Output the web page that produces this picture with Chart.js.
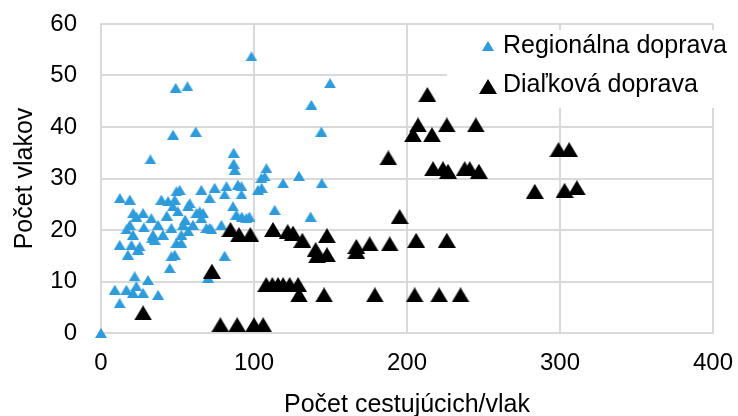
<!DOCTYPE html>
<html>
<head>
<meta charset="utf-8">
<script src="https://cdn.jsdelivr.net/npm/chart.js@4.4.1/dist/chart.umd.min.js"></script>
<style>
  html, body { margin: 0; padding: 0; background: #fff; }
  #wrap { width: 738px; height: 416px; }
</style>
</head>
<body>
<div id="wrap"><canvas id="chart"></canvas></div>
<script>
// Scatter: passengers per train vs number of trains
const seriesNames = ['Regionálna doprava', 'Diaľková doprava'];
const seriesColors = ['#2e9bdb', '#000000'];

const xTicks = [0, 100, 200, 300, 400];
const yTicks = [0, 10, 20, 30, 40, 50, 60];

// [cestujúci/vlak, počet vlakov]
const regionalPoints = [
    [0, 0], [98.3, 53.7], [48.8, 47.6], [56.5, 47.9], [47.1, 38.5], [61.9, 39.1],
    [32.3, 33.7], [86.7, 35], [86.7, 32.9], [87.5, 31.7], [108.1, 32], [149.7, 48.5],
    [137.5, 44.3], [144, 39.1], [107, 30.4], [129.4, 30.5], [119, 29.1], [144.3, 29.1],
    [105, 28.2], [91.8, 28.5], [91.8, 26.9], [113.5, 23.9], [137, 22.6], [92, 22.6],
    [97, 22.6], [102.6, 27.8], [104.8, 30.1],
    [12.3, 26.2], [18.8, 25.9], [27.5, 23.3], [23.1, 22.6], [32.9, 22.3], [39.5, 25.9],
    [43.8, 25.6], [47, 24.6], [49.3, 27.5], [16.6, 20.1], [20.9, 19.1], [18.8, 21],
    [37.3, 21], [34, 19.1], [40.5, 19.1], [46, 20.4], [12.2, 17.1], [19.9, 17.1],
    [25.3, 16.8], [49.3, 17.5], [21, 23.3], [33.5, 18.5], [28, 20.5], [43, 22.8],
    [51.4, 27.8], [65.6, 27.8], [74.3, 28.2], [82, 28.5], [89.5, 28.8], [71, 26.2],
    [80.8, 26.9], [48.2, 25.9], [56.9, 24.6], [50.3, 23.6], [64.5, 23.6], [65.6, 22.3],
    [86.3, 24.6], [88.5, 23], [95, 22.3], [53.6, 21], [60.1, 21], [71, 20.4],
    [78.7, 21], [52.5, 19.1], [52.5, 17.5], [58, 25.2], [62.4, 23.3], [66.7, 23.3],
    [68.9, 20.4], [72.2, 20.1], [57, 19.8], [55, 22],
    [24.2, 16.2], [17.6, 15.2], [35.1, 18.1], [46, 14.9], [44.9, 12.6], [48.2, 15.2],
    [22, 11], [30.7, 10.3], [9, 8.4], [16.6, 8.4], [23.1, 9.1], [27.5, 7.8],
    [37.3, 7.4], [12.2, 5.8], [20.9, 7.8], [70, 10.7], [80.8, 15]
];

const longDistancePoints = [
    [27.5, 3.9], [72.5, 12], [78, 1.6], [89, 1.6], [100, 1.6], [106, 1.6],
    [84.6, 20.1], [90.2, 19.1], [97.6, 19.1],
    [108, 9.4], [112, 9.4], [115.7, 9.4], [119, 9.4], [123.3, 9.4], [128.8, 9.4],
    [129.4, 7.4], [145.8, 7.4], [179, 7.4], [205, 7.4], [221, 7.4], [235, 7.4],
    [112.4, 20.1], [122, 19.7], [125.5, 19.4], [131.6, 18], [147.7, 18.9],
    [140.3, 16.2], [141.2, 15], [147.7, 15.2], [166.9, 16.8], [166.9, 15.8],
    [175.6, 17.3], [188.7, 17.3], [206, 18], [226, 18], [195.2, 22.6],
    [187.8, 34], [203.9, 38.5], [207.2, 40.4], [216.3, 38.5], [213.3, 46.3],
    [226, 40.4], [245, 40.4],
    [217, 31.9], [223.5, 31.9], [226.8, 31.4], [237.7, 31.9], [241, 31.9], [247, 31.4],
    [283.5, 27.5], [299, 35.6], [306, 35.6], [303, 27.7], [311, 28.2]
];

const FONT = "'Liberation Sans', Arial, sans-serif";

function toXY(list) {
    return list.map(p => ({ x: p[0], y: p[1] }));
}

// Triangle marker as a small canvas, so the box centre sits on the value (like Excel)
function triangleMarker(w, h, color) {
    const c = document.createElement('canvas');
    c.width = w;
    c.height = h;
    const g = c.getContext('2d');
    g.fillStyle = color;
    g.beginPath();
    g.moveTo(w / 2, 0);
    g.lineTo(w, h);
    g.lineTo(0, h);
    g.closePath();
    g.fill();
    return c;
}

const blueMarker = triangleMarker(12, 10, seriesColors[0]);
const blackMarker = triangleMarker(18, 15, seriesColors[1]);

// Legend drawn inside the plot, top right, on a white box
const insideLegend = {
    id: 'insideLegend',
    afterDatasetsDraw(chart) {
        const ctx = chart.ctx;
        const rows = [
            { text: seriesNames[0], marker: blueMarker, my: 46, ty: 46 },
            { text: seriesNames[1], marker: blackMarker, my: 86, ty: 85 }
        ];
        ctx.save();
        ctx.fillStyle = '#ffffff';
        ctx.fillRect(447, 30, 280, 78);
        rows.forEach(row => {
            const m = row.marker;
            ctx.drawImage(m, Math.round(488 - m.width / 2), Math.round(row.my - m.height / 2));
            ctx.fillStyle = '#000';
            ctx.font = '25px ' + FONT;
            ctx.textBaseline = 'middle';
            ctx.textAlign = 'left';
            ctx.fillText(row.text, 503, row.ty);
        });
        ctx.restore();
    }
};

const ctx = document.getElementById('chart').getContext('2d');
new Chart(ctx, {
    type: 'scatter',
    data: {
        datasets: [
            {
                label: seriesNames[0],
                data: toXY(regionalPoints),
                pointStyle: blueMarker,
                pointRadius: 6,
                backgroundColor: seriesColors[0],
                borderColor: seriesColors[0],
                clip: false,
                order: 1
            },
            {
                label: seriesNames[1],
                data: toXY(longDistancePoints),
                pointStyle: blackMarker,
                pointRadius: 9,
                backgroundColor: seriesColors[1],
                borderColor: seriesColors[1],
                clip: false,
                order: 0
            }
        ]
    },
    options: {
        responsive: true,
        maintainAspectRatio: false,
        animation: false,
        layout: { padding: { top: 24, right: 25, left: 0, bottom: 0 } },
        plugins: {
            legend: { display: false },
            tooltip: { enabled: false }
        },
        scales: {
            x: {
                type: 'linear',
                min: 0,
                max: 400,
                afterBuildTicks(scale) { scale.ticks = xTicks.map(v => ({ value: v })); },
                afterFit(scale) { scale.height = 83; },
                // tick marks hidden, tickLength only used as label gap
                grid: { color: '#d9d9d9', lineWidth: 2, drawTicks: true, tickLength: 16, tickColor: 'rgba(0,0,0,0)' },
                border: { color: '#d9d9d9', width: 2 },
                ticks: { color: '#000', padding: 0, font: { family: FONT, size: 24 } },
                title: {
                    display: true,
                    text: 'Počet cestujúcich/vlak',
                    color: '#000',
                    padding: { top: 0, bottom: -2 },
                    font: { family: FONT, size: 25, lineHeight: 1.0 }
                }
            },
            y: {
                type: 'linear',
                min: 0,
                max: 60,
                afterBuildTicks(scale) { scale.ticks = yTicks.map(v => ({ value: v })); },
                afterFit(scale) { scale.width = 101; },
                grid: { color: '#d9d9d9', lineWidth: 2, drawTicks: true, tickLength: 24, tickColor: 'rgba(0,0,0,0)' },
                border: { color: '#d9d9d9', width: 2 },
                ticks: { color: '#000', padding: 0, font: { family: FONT, size: 24 } },
                title: {
                    display: true,
                    text: 'Počet vlakov',
                    color: '#000',
                    padding: { top: 10, bottom: 0 },
                    font: { family: FONT, size: 25 }
                }
            }
        }
    },
    plugins: [insideLegend]
});
</script>
</body>
</html>
